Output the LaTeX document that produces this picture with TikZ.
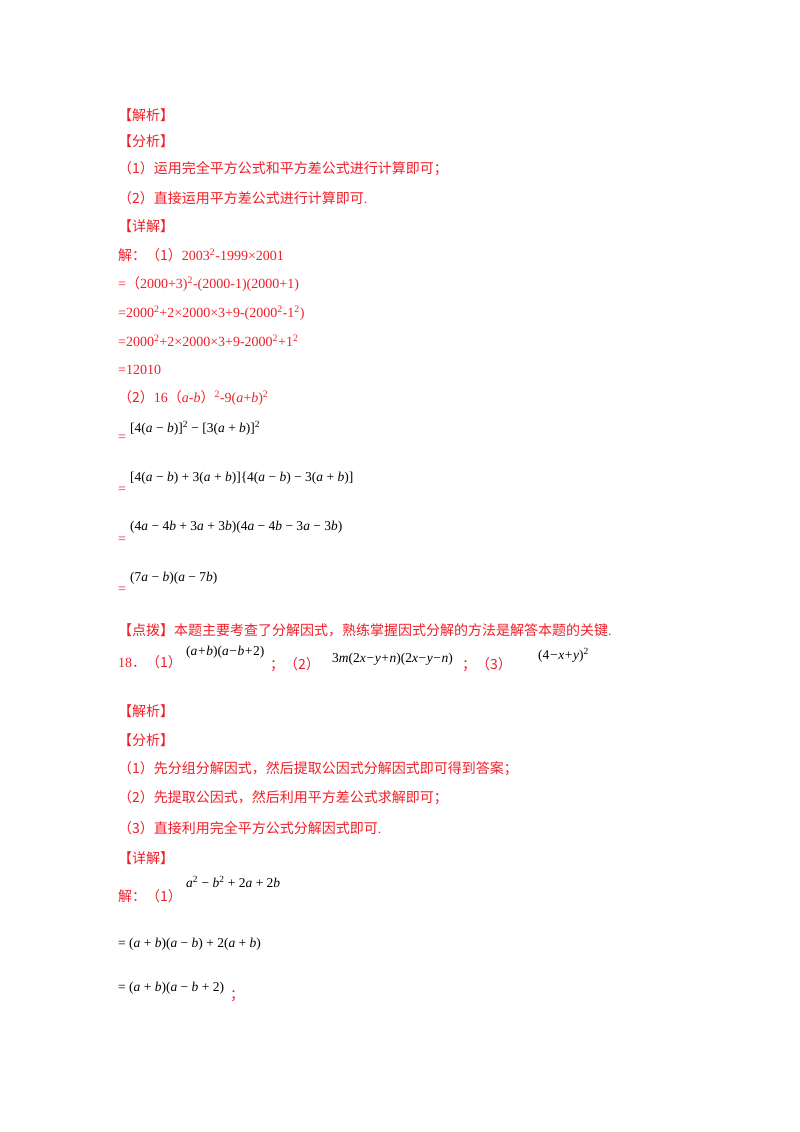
\documentclass[tikz,border=0pt]{standalone}
\usepackage{fontspec}
\setmainfont{Liberation Serif}
\newfontfamily\cjk{Noto Sans CJK SC}
\definecolor{rd}{RGB}{240,30,40}
\newcommand{\mi}[1]{\textit{#1}}
\newcommand{\op}[1]{\hspace{0.6pt}#1\hspace{0.6pt}}
\begin{document}
\begin{tikzpicture}[x=1pt,y=-1pt,
  t/.style={anchor=west,inner sep=0pt,text=rd,font=\fontsize{14}{16}\selectfont},
  k/.style={anchor=west,inner sep=0pt,text=black,font=\fontsize{13.5}{16}\selectfont}]
\useasboundingbox (0,0) rectangle (800,1132);
\node[t] (a1) at (118,115) {{\cjk 【解析】}};
\node[t] (a2) at (118,141) {{\cjk 【分析】}};
\node[t] (a3) at (118,169) {{\cjk （1）运用完全平方公式和平方差公式进行计算即可；}};
\node[t] (a4) at (118,198) {{\cjk （2）直接运用平方差公式进行计算即可}.};
\node[t] (a5) at (118,226) {{\cjk 【详解】}};
\node[t] (a6) at (118,255) {{\cjk 解：（1）}2003\textsuperscript{2}-1999×2001};
\node[t] (a7) at (118,284) {={\cjk （}2000+3)\textsuperscript{2}-(2000-1)(2000+1)};
\node[t] (a8) at (118,313) {=2000\textsuperscript{2}+2×2000×3+9-(2000\textsuperscript{2}-1\textsuperscript{2})};
\node[t] (a9) at (118,341) {=2000\textsuperscript{2}+2×2000×3+9-2000\textsuperscript{2}+1\textsuperscript{2}};
\node[t] (a10) at (118,370) {=12010};
\node[t] (a11) at (118,398) {{\cjk （2）}16{\cjk （}\mi{a}-\mi{b}{\cjk ）}\textsuperscript{2}-9(\mi{a}+\mi{b})\textsuperscript{2}};
\node[t] (e1) at (118,438) {=};
\node[k] (m1) at (130,428) {[4(\mi{a} − \mi{b})]\textsuperscript{2} − [3(\mi{a} + \mi{b})]\textsuperscript{2}};
\node[t] (e2) at (118,490) {=};
\node[k] (m2) at (130,478) {[4(\mi{a} − \mi{b}) + 3(\mi{a} + \mi{b})]\{4(\mi{a} − \mi{b}) − 3(\mi{a} + \mi{b})]};
\node[t] (e3) at (118,540) {=};
\node[k] (m3) at (130,527) {(4\mi{a} − 4\mi{b} + 3\mi{a} + 3\mi{b})(4\mi{a} − 4\mi{b} − 3\mi{a} − 3\mi{b})};
\node[t] (e4) at (118,590) {=};
\node[k] (m4) at (130,578) {(7\mi{a} − \mi{b})(\mi{a} − 7\mi{b})};
\node[t] (b1) at (118,630) {{\cjk 【点拨】本题主要考查了分解因式，熟练掌握因式分解的方法是解答本题的关键}.};
\node[t] (b2) at (118,662) {18{\cjk ．（1）}};
\node[k] (b3) at (186,652) {(\mi{a}\op{+}\mi{b})(\mi{a}\op{−}\mi{b}\op{+}2)};
\node[t] (b4) at (270,665) {{\cjk ；（2）}};
\node[k] (b5) at (332,659) {3\mi{m}(2\mi{x}\op{−}\mi{y}\op{+}\mi{n})(2\mi{x}\op{−}\mi{y}\op{−}\mi{n})};
\node[t] (b6) at (462,665) {{\cjk ；（3）}};
\node[k] (b7) at (538,655) {(4\op{−}\mi{x}\op{+}\mi{y})\textsuperscript{2}};
\node[t] (c1) at (118,711) {{\cjk 【解析】}};
\node[t] (c2) at (118,740) {{\cjk 【分析】}};
\node[t] (c3) at (118,769) {{\cjk （1）先分组分解因式，然后提取公因式分解因式即可得到答案；}};
\node[t] (c4) at (118,798) {{\cjk （2）先提取公因式，然后利用平方差公式求解即可；}};
\node[t] (c5) at (118,828) {{\cjk （3）直接利用完全平方公式分解因式即可}.};
\node[t] (c6) at (118,858) {{\cjk 【详解】}};
\node[t] (c7) at (118,896) {{\cjk 解：（1）}};
\node[k] (c8) at (186,882) {\mi{a}\textsuperscript{2} − \mi{b}\textsuperscript{2} + 2\mi{a} + 2\mi{b}};
\node[k] (c9) at (118,944) {= (\mi{a} + \mi{b})(\mi{a} − \mi{b}) + 2(\mi{a} + \mi{b})};
\node[k] (c10) at (118,988) {= (\mi{a} + \mi{b})(\mi{a} − \mi{b} + 2)};
\node[t] (c11) at (230,996) {{\cjk ；}};
\end{tikzpicture}
\end{document}
